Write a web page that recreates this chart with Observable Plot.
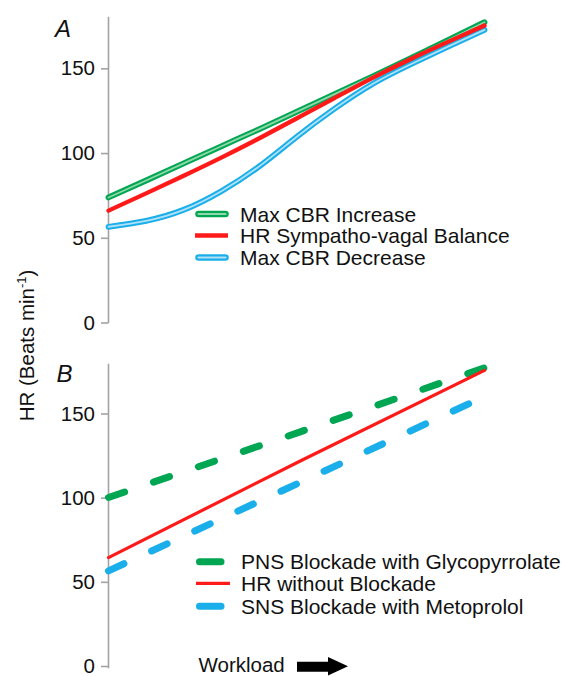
<!DOCTYPE html>
<html>
<head>
<meta charset="utf-8">
<script src="https://cdn.jsdelivr.net/npm/d3@7"></script>
<script src="https://cdn.jsdelivr.net/npm/@observablehq/plot@0.6"></script>
<style>
  html, body { margin: 0; padding: 0; background: #fff; }
  #chart { position: relative; width: 574px; height: 677px; font-family: "Liberation Sans", Arial, sans-serif; color: #111; }
  #chart svg { position: absolute; left: 0; }
</style>
</head>
<body>
<div id="chart"></div>
<script>
// ---------- Data ----------
const yTicks = [0, 50, 100, 150];

// Panel A: workload (fraction of range) and heart rate (beats/min)
const workloadA = [0, 0.1, 0.2, 0.3, 0.4, 0.5, 0.6, 0.7, 0.8, 0.9, 1];
const maxCbrIncrease = [73.8, 83.8, 93.9, 104, 114, 124.3, 134.6, 145, 155.6, 166.3, 177.2];
const hrSympathoVagal = [66, 76.2, 86.6, 97.3, 108.6, 120.4, 132.3, 144.1, 155.1, 165.3, 175.3];
const maxCbrDecrease = [56.5, 60, 66.5, 77.5, 92, 109.5, 126, 140.5, 152, 162.5, 172.7];

// Panel B: straight lines across the workload range
const workloadB = [0, 0.51, 1];
const pnsBlockade = [101, 140, 178];
const hrNoBlockade = [65.3, 122.7, 176.5];
const snsBlockade = [57.4, 110, 161];

const legendA = ["Max CBR Increase", "HR Sympatho-vagal Balance", "Max CBR Decrease"];
const legendB = ["PNS Blockade with Glycopyrrolate", "HR without Blockade", "SNS Blockade with Metoprolol"];

const GREEN = "#00a651", GREEN_LIGHT = "#8fd8ab";
const RED = "#ff1a1a";
const BLUE = "#1aaeea", BLUE_LIGHT = "#b0e2f7";
const AXIS = "#a3a3a3";
const FONT = '"Liberation Sans", Arial, sans-serif';

const rows = (xs, vs) => xs.map((t, i) => ({t, v: vs[i]}));

const chart = document.getElementById("chart");

function baseOpts(height, mt, mb) {
  return {
    width: 574, height, marginLeft: 108, marginRight: 90, marginTop: mt, marginBottom: mb,
    x: {domain: [0, 1], axis: null, label: null},
    y: {domain: [0, 180], axis: null, label: null},
    style: {fontFamily: FONT, fontSize: "20.5px", color: "#111", background: "transparent", overflow: "visible"}
  };
}
function yAxis(dy) {
  return [
    Plot.frame({anchor: "left", stroke: AXIS, strokeWidth: 1.6}),
    Plot.axisY({ticks: yTicks, label: null, tickSize: 7, tickPadding: 6.5, stroke: AXIS, strokeWidth: 1.6,
                color: "#111", fontSize: 20.5, tickFormat: d => String(d), dy})
  ];
}

// ---------- Panel A ----------
const plotA = Plot.plot({
  ...baseOpts(340, 17, 18),
  marks: [
    ...yAxis(0.5),
    Plot.line(rows(workloadA, maxCbrDecrease), {x: "t", y: "v", stroke: BLUE, strokeWidth: 5.8, curve: "natural"}),
    Plot.line(rows(workloadA, maxCbrDecrease), {x: "t", y: "v", stroke: BLUE_LIGHT, strokeWidth: 1.8, curve: "natural"}),
    Plot.line(rows(workloadA, maxCbrIncrease), {x: "t", y: "v", stroke: GREEN, strokeWidth: 5.8, curve: "natural"}),
    Plot.line(rows(workloadA, maxCbrIncrease), {x: "t", y: "v", stroke: GREEN_LIGHT, strokeWidth: 1.8, curve: "natural"}),
    Plot.line(rows(workloadA, hrSympathoVagal), {x: "t", y: "v", stroke: RED, strokeWidth: 4.3, curve: "natural"})
  ]
});
plotA.style.top = "0px";
chart.appendChild(plotA);

// ---------- Panel B ----------
const plotB = Plot.plot({
  ...baseOpts(337, 24, 10),
  marks: [
    ...yAxis(-1),
    Plot.line(rows(workloadB, snsBlockade), {x: "t", y: "v", stroke: BLUE, strokeWidth: 7, strokeLinecap: "round", strokeDasharray: "17,30.5"}),
    Plot.line(rows(workloadB, pnsBlockade), {x: "t", y: "v", stroke: GREEN, strokeWidth: 7, strokeLinecap: "round", strokeDasharray: "17,30.5"}),
    Plot.line(rows(workloadB, hrNoBlockade), {x: "t", y: "v", stroke: RED, strokeWidth: 3.2})
  ]
});
plotB.style.top = "340px";
chart.appendChild(plotB);

// ---------- Overlay: legends, panel letters, axis label, workload arrow ----------
const NS = "http://www.w3.org/2000/svg";
const ov = document.createElementNS(NS, "svg");
ov.setAttribute("width", 574); ov.setAttribute("height", 677);
ov.style.top = "0px";
ov.setAttribute("font-family", FONT);
chart.appendChild(ov);
function el(tag, attrs, text) {
  const e = document.createElementNS(NS, tag);
  for (const k in attrs) e.setAttribute(k, attrs[k]);
  if (text != null) e.textContent = text;
  ov.appendChild(e);
  return e;
}

// Legend A
const legAy = [214, 235.5, 257.5];
el("line", {x1: 198.5, x2: 225.5, y1: legAy[0], y2: legAy[0], stroke: GREEN, "stroke-width": 6.5, "stroke-linecap": "round"});
el("line", {x1: 198.5, x2: 225.5, y1: legAy[0], y2: legAy[0], stroke: GREEN_LIGHT, "stroke-width": 2.2, "stroke-linecap": "round"});
el("line", {x1: 195, x2: 228, y1: legAy[1], y2: legAy[1], stroke: RED, "stroke-width": 4.3});
el("line", {x1: 198.5, x2: 225.5, y1: legAy[2], y2: legAy[2], stroke: BLUE, "stroke-width": 6.5, "stroke-linecap": "round"});
el("line", {x1: 198.5, x2: 225.5, y1: legAy[2], y2: legAy[2], stroke: BLUE_LIGHT, "stroke-width": 2.2, "stroke-linecap": "round"});
legendA.forEach((s, i) => el("text", {x: 240, y: legAy[i], dy: "0.36em", "font-size": 21, fill: "#111"}, s));

// Legend B
const legBy = [561.7, 583.3, 606.3];
el("line", {x1: 199.5, x2: 221, y1: legBy[0], y2: legBy[0], stroke: GREEN, "stroke-width": 7, "stroke-linecap": "round"});
el("line", {x1: 196, x2: 230, y1: legBy[1], y2: legBy[1], stroke: RED, "stroke-width": 3.3});
el("line", {x1: 199.5, x2: 221, y1: legBy[2], y2: legBy[2], stroke: BLUE, "stroke-width": 7, "stroke-linecap": "round"});
legendB.forEach((s, i) => el("text", {x: 241, y: legBy[i], dy: "0.36em", "font-size": 21, fill: "#111"}, s));

// Panel letters
el("text", {x: 55, y: 37, "font-size": 24, "font-style": "italic", fill: "#111"}, "A");
el("text", {x: 56.5, y: 381.5, "font-size": 24, "font-style": "italic", fill: "#111"}, "B");

// Y axis label
const yl = el("text", {transform: "translate(33.5,345.5) rotate(-90)", "text-anchor": "middle", "font-size": 20.5, fill: "#111"});
const t1 = document.createElementNS(NS, "tspan"); t1.textContent = "HR (Beats min"; yl.appendChild(t1);
const t2 = document.createElementNS(NS, "tspan"); t2.setAttribute("dy", "-8"); t2.setAttribute("font-size", "13"); t2.textContent = "-1"; yl.appendChild(t2);
const t3 = document.createElementNS(NS, "tspan"); t3.setAttribute("dy", "8"); t3.textContent = ")"; yl.appendChild(t3);

// Workload label and arrow
el("text", {x: 198.5, y: 672, "font-size": 20.5, fill: "#111"}, "Workload");
el("polygon", {points: "297,661.7 328,661.7 328,657 348,666.3 328,675.5 328,671.7 297,671.7", fill: "#000"});
</script>
</body>
</html>
